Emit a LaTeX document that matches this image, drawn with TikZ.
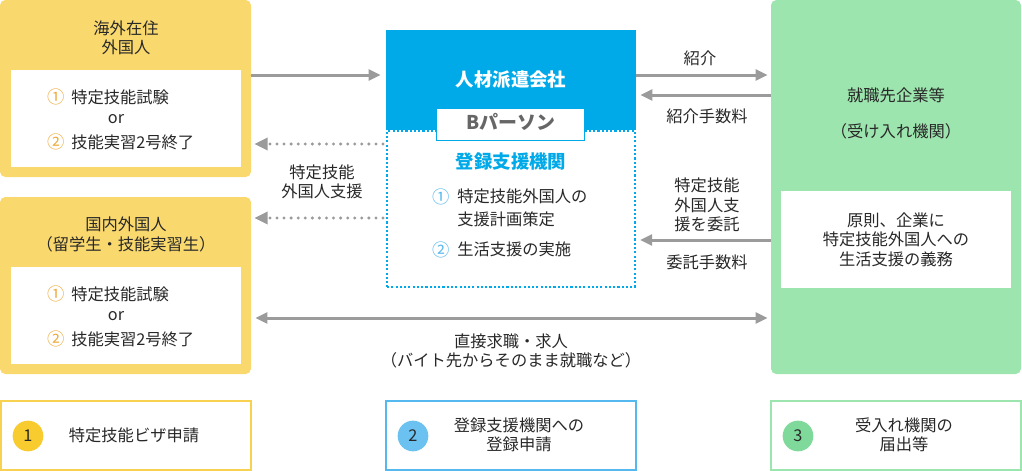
\documentclass[tikz,border=0pt]{standalone}
\usepackage{fontspec}
\usepackage{xcolor}
\usepackage{tikz}
\setmainfont{Noto Sans CJK JP}
\usetikzlibrary{arrows.meta, positioning, calc, fit}
\definecolor{cYellow}{RGB}{249,216,110}
\definecolor{cYellowLine}{RGB}{249,209,80}
\definecolor{cYellowDot}{RGB}{248,203,46}
\definecolor{cOrange}{RGB}{240,170,60}
\definecolor{cCyan}{RGB}{0,169,232}
\definecolor{cSky}{RGB}{85,184,238}
\definecolor{cSkyDot}{RGB}{107,193,240}
\definecolor{cGreen}{RGB}{157,229,174}
\definecolor{cGreenDot}{RGB}{127,217,154}
\definecolor{cArrow}{RGB}{155,155,155}
\definecolor{cText}{RGB}{40,40,40}
\tikzset{
	plate/.style   ={rectangle, inner sep=0pt, rounded corners=4pt},
	inset/.style   ={rectangle, inner sep=0pt, fill=white},
	note/.style    ={rectangle, inner sep=0pt, fill=white, line width=1.5pt},
	numdot/.style  ={circle, minimum size=23pt, inner sep=0pt, text=cText},
	lbl/.style     ={align=center, inner sep=0pt, text=cText},
	item/.style    ={anchor=west, align=left, inner sep=0pt, text=cText},
	sig/.style     ={-{Triangle[length=9pt,width=8pt]}, line width=2.25pt, cArrow},
	sigboth/.style ={{Triangle[length=9pt,width=8pt]}-{Triangle[length=9pt,width=8pt]}, line width=2.25pt, cArrow},
	sigdot/.style  ={-{Triangle[length=10pt,width=9pt]}, line width=2.5pt, line cap=round, dash pattern=on 0pt off 5.3pt, cArrow},
}
\newcommand{\bignum}[1]{\smash{\raisebox{-0.5pt}{\fontsize{13}{13}\selectfont #1}}}
\newcommand{\orgnum}[1]{\textcolor{cOrange}{\bignum{#1}}\hspace{5pt}}
\newcommand{\blunum}[1]{\textcolor{cSky}{\bignum{#1}}\hspace{5.8pt}}
\begin{document}
\begin{tikzpicture}[x=0.75pt, y=-0.75pt, font=\fontsize{12.2}{14.6}\selectfont]
	\useasboundingbox (0,0) rectangle (1022,471);
	% left column
	\node[plate, fill=cYellow, fit={(0,0) (251,177)}] (kaigai) {};
	\node[inset, fit={(11,70) (241,167)}] (kaigaibox) {};
	\node[lbl] (kaigaititle) at (126,38) {海外在住\\外国人};
	\node[item] (kaigaiA) at (47,97) {\orgnum{①}特定技能試験};
	\node[lbl] (kaigaiOr) at (116,119) {or};
	\node[item] (kaigaiB) at (47,142) {\orgnum{②}技能実習2号終了};
	\node[plate, fill=cYellow, fit={(0,197) (251,374)}] (kokunai) {};
	\node[inset, fit={(11,267) (241,364)}] (kokunaibox) {};
	\node[lbl] (kokunaititle) at (126,234.5) {国内外国人\\（留学生・技能実習生）};
	\node[item] (kokunaiA) at (47,294) {\orgnum{①}特定技能試験};
	\node[lbl] (kokunaiOr) at (116,316) {or};
	\node[item] (kokunaiB) at (47,339) {\orgnum{②}技能実習2号終了};
	% centre column
	\node[fill=white, draw=cCyan, line width=1.5pt, dash pattern=on 1.6pt off 1.6pt, inner sep=0pt, fit={(387,131) (635,287)}] (touroku) {};
	\node[fill=cCyan, inner sep=0pt, fit={(386,30) (636,130)}] (haken) {};
	\node[lbl, text=white, font=\fontsize{13.8}{14.6}\selectfont\bfseries] (hakentitle) at (511,80) {人材派遣会社};
	\node[note, draw=cCyan, line width=0.75pt, fit={(436.5,108) (584.5,140.5)}] (bperson) {};
	\node[lbl, text=black!60, font=\fontsize{14.2}{14.6}\selectfont\bfseries] (bpersonlbl) at (510.5,122) {Bパーソン};
	\node[lbl, text=cCyan, font=\fontsize{13.8}{14.6}\selectfont\bfseries] (tourokutitle) at (511,162) {登録支援機関};
	\node[item] (tourokuA) at (432,196.5) {\blunum{①}特定技能外国人の};
	\node[item] (tourokuA2) at (457,219) {支援計画策定};
	\node[item] (tourokuB) at (432,249.5) {\blunum{②}生活支援の実施};
	% right column
	\node[plate, fill=cGreen, fit={(771,0) (1021,374)}] (kigyou) {};
	\node[inset, fit={(781,191) (1011,288)}] (kigyoubox) {};
	\node[lbl] (kigyoutitle) at (896,95) {就職先企業等};
	\node[lbl] (kigyousub) at (896,131) {（受け入れ機関）};
	\node[lbl] (kigyoutext) at (896,239.5) {原則、企業に\\特定技能外国人への\\生活支援の義務};
	% rows for the connectors
	\coordinate (rowA) at (0,75);
	\coordinate (rowB) at (0,95);
	\coordinate (rowC) at (0,144);
	\coordinate (rowD) at (0,218);
	\coordinate (rowE) at (0,240);
	\coordinate (rowF) at (0,318);
	\draw[sig, shorten >=3.75pt] (kaigai.east |- rowA) -- (haken.west |- rowA);
	\draw[sig, shorten >=2.25pt] (haken.east |- rowA) -- (kigyou.west |- rowA);
	\draw[sig, shorten >=3pt] (kigyou.west |- rowB) -- (haken.east |- rowB);
	\draw[sigdot, shorten <=2.25pt, shorten >=2.25pt] (touroku.west |- rowC) -- (kaigai.east |- rowC);
	\draw[sigdot, shorten <=2.25pt, shorten >=2.25pt] (touroku.west |- rowD) -- (kokunai.east |- rowD);
	\draw[sig, shorten >=3pt] (kigyou.west |- rowE) -- (touroku.east |- rowE);
	\draw[sigboth, shorten <=3pt, shorten >=2.25pt] (kokunai.east |- rowF) -- (kigyou.west |- rowF);
	% connector labels
	\node[lbl] (shoukai) at (700,58) {紹介};
	\node[lbl] (shoukaifee) at (707,116) {紹介手数料};
	\node[lbl] (shien) at (322,182) {特定技能\\外国人支援};
	\node[lbl] (itaku) at (707,205) {特定技能\\外国人支\\援を委託};
	\node[lbl] (itakufee) at (707,262) {委託手数料};
	\node[lbl] (chokusetsu) at (511,351) {直接求職・求人\\（バイト先からそのまま就職など）};
	% bottom row
	\node[note, draw=cYellowLine, fit={(1,401) (251,470)}] (stepone) {};
	\node[numdot, fill=cYellowDot] (dotone) at (28,436) {1};
	\node[lbl] (steponelbl) at (134,435) {特定技能ビザ申請};
	\node[note, draw=cSky, fit={(386,401) (636,470)}] (steptwo) {};
	\node[numdot, fill=cSkyDot] (dottwo) at (413,436) {2};
	\node[lbl] (steptwolbl) at (519,435) {登録支援機関への\\登録申請};
	\node[note, draw=cGreen, fit={(771,401) (1021,470)}] (stepthree) {};
	\node[numdot, fill=cGreenDot] (dotthree) at (798,436) {3};
	\node[lbl] (stepthreelbl) at (904,435) {受入れ機関の\\届出等};
\end{tikzpicture}
\end{document}
